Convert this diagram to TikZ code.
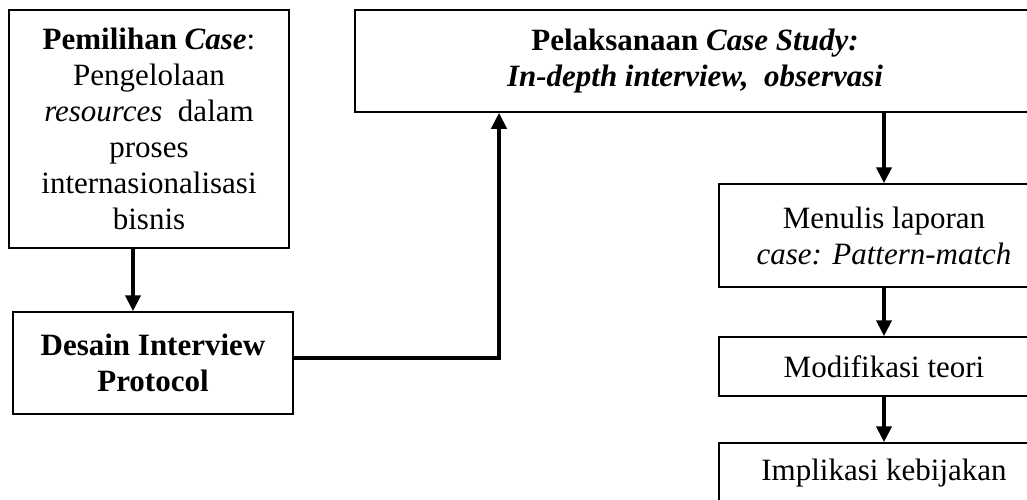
\documentclass[tikz,border=0pt]{standalone}
\usepackage{fontspec}
\setmainfont{Liberation Serif}
\usetikzlibrary{arrows.meta,calc}
\begin{document}
\begin{tikzpicture}[x=1pt,y=-1pt,
  box/.style={draw, line width=1.5pt, inner sep=0pt, align=center,
    font=\fontsize{31}{36}\selectfont},
  arr/.style={line width=4.5pt, -{Triangle[width=15pt,length=16pt]}}]
\useasboundingbox (0,0) rectangle (1027,500);
\clip (0,0) rectangle (1027,500);
\node[box, minimum width=280pt, minimum height=238pt] (b1) at (149,129)
  {\textbf{Pemilihan \textit{Case}}:\\Pengelolaan\\\textit{resources}\ \ dalam\\proses\\internasionalisasi\\bisnis};
\node[box, minimum width=280pt, minimum height=102pt] (b2) at (153,363)
  {\textbf{Desain Interview}\\\textbf{Protocol}};
\node[box, minimum width=680pt, minimum height=102pt] (b3) at (695,61)
  {\textbf{Pelaksanaan \textit{Case Study:}}\\\textbf{\textit{In-depth interview,\ \ observasi}}};
\node[box, minimum width=330pt, minimum height=103pt] (b4) at (884,235.5)
  {Menulis laporan\\\textit{case: Pattern-match}};
\node[box, minimum width=330pt, minimum height=59pt] (b5) at (884,366.5)
  {Modifikasi teori};
\node[box, minimum width=330pt, minimum height=60pt] (b6) at (884,473)
  {Implikasi kebijakan};
\coordinate (c1) at (133,0);
\coordinate (c2) at (499,358);
\draw[arr] (b1.south -| c1) -- (b2.north -| c1);
\draw[arr] (b2.east |- c2) -| (b3.south -| c2);
\draw[arr] (b3.south -| b4.north) -- (b4.north);
\draw[arr] (b4) -- (b5);
\draw[arr] (b5) -- (b6);
\end{tikzpicture}
\end{document}
